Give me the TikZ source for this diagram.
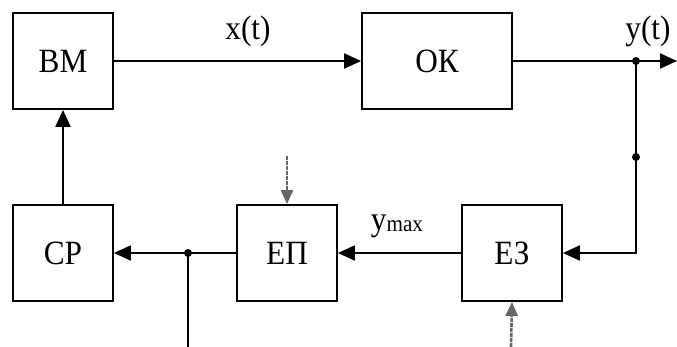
\documentclass[tikz,border=0pt]{standalone}
\usepackage{fontspec}
\setmainfont[FakeStretch=0.92]{Liberation Serif}
\usetikzlibrary{arrows.meta,positioning}
\tikzset{box/.style={draw,line width=1.8pt,minimum height=96pt,inner sep=2pt,font=\fontsize{34}{34}\selectfont},
  arr/.style={-{Triangle[length=17pt,width=15pt]},line width=2pt},
  ln/.style={line width=2pt},
  ext/.style={-{Triangle[length=14pt,width=12pt]},line width=2.6pt,draw=black!60,fill=black!60,dash pattern=on 4pt off 1pt},
  lbl/.style={font=\fontsize{34}{34}\selectfont,inner sep=0pt},
  dot/.style={circle,fill=black,inner sep=0pt,minimum size=8pt}}

\begin{document}
\begin{tikzpicture}[x=1pt,y=-1pt]
\useasboundingbox (0,0) rectangle (677,347);
\node[box,minimum width=100pt] (bm) at (63,61){ВМ}; \node[box,minimum width=150pt] (ok) at (437,61){ОК};
\node[box,minimum width=100pt] (cp) at (63,253){СР}; \node[box,minimum width=100pt] (ep) at (287,253){ЕП};
\node[box,minimum width=100pt] (ez) at (512,253){ЕЗ};
\coordinate (j1) at (636,61); \coordinate (j2) at (636,157); \coordinate (j3) at (188,253);
\coordinate (out) at (677,61); \coordinate (bot) at (188,347);
\coordinate (ept) at (287,156); \coordinate (ezb) at (511,347);
\draw[arr] (bm)--(ok); \draw[ln] (ok)--(j1); \draw[arr] (j1)--(out);
\draw[arr] (j1)|-(ez.east); \draw[arr] (ez)--(ep); \draw[ln] (ep)--(j3); \draw[arr] (j3)--(cp);
\draw[ln] (j3)--(bot); \draw[arr] (cp)--(bm);
\draw[ext] (ept)--(ep.north); \draw[ext] (ezb)--(ez.south);
\node[dot] at (j1){}; \node[dot] at (j2){}; \node[dot] at (j3){};
\node[lbl] (xt) at (248,31){x(t)}; \node[lbl] (yt) at (648,31){y(t)};
\node[lbl] (ymax) at (397,226){y\raisebox{-1pt}{\fontsize{23}{23}\selectfont max}};
\end{tikzpicture}
\end{document}
